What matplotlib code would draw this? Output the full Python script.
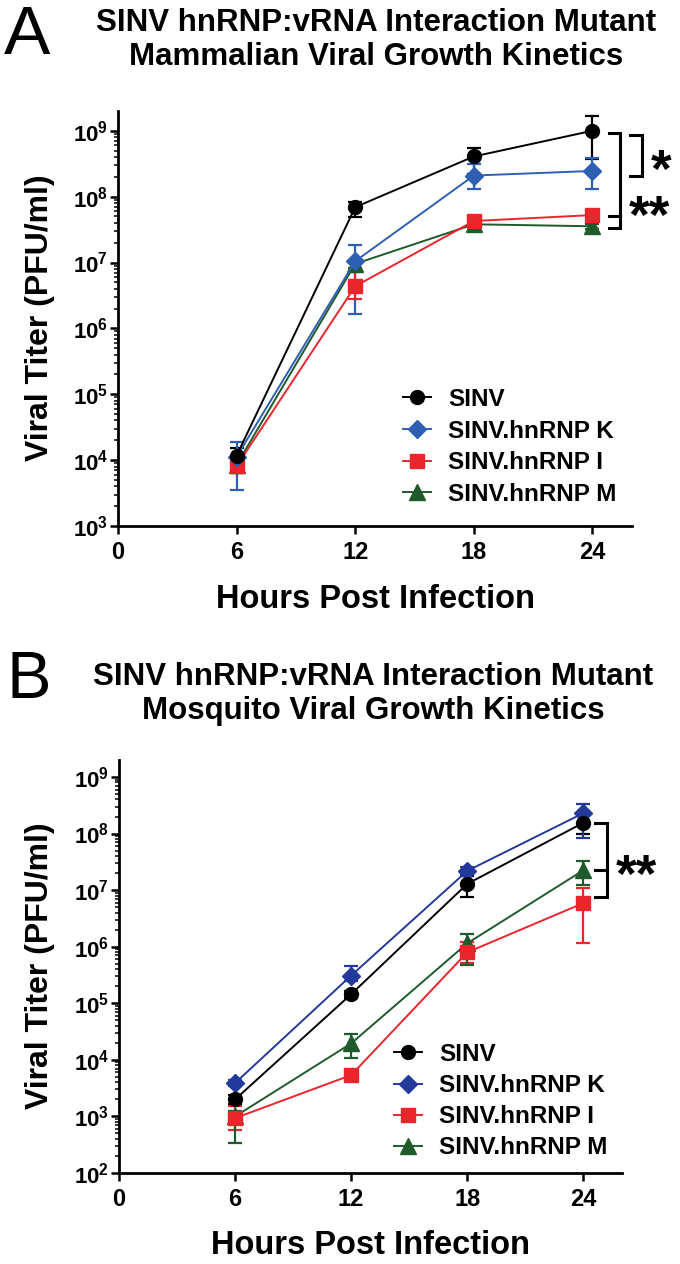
import matplotlib
matplotlib.use('Agg')
import matplotlib.pyplot as plt
import numpy as np
from matplotlib.ticker import FixedLocator, LogLocator, FuncFormatter, NullFormatter
from matplotlib.lines import Line2D

plt.rcParams['font.family'] = ['Liberation Sans', 'DejaVu Sans']
plt.rcParams['mathtext.fontset'] = 'custom'
plt.rcParams['mathtext.rm'] = 'Liberation Sans:bold'
plt.rcParams['mathtext.bf'] = 'Liberation Sans:bold'
plt.rcParams['mathtext.it'] = 'Liberation Sans:bold'

# ---- data (log10 PFU/ml) ----
hours = [6, 12, 18, 24]
names = ['SINV', 'SINV.hnRNP K', 'SINV.hnRNP I', 'SINV.hnRNP M']
markers = ['o', 'D', 's', '^']

# panel A - mammalian
a_sinv = [4.07, 7.84, 8.61, 9.00]
a_sinv_lo = [3.91, 7.69, 8.35, 8.57]
a_sinv_hi = [4.18, 7.92, 8.74, 9.23]
a_k = [4.05, 7.02, 8.32, 8.39]
a_k_lo = [3.54, 6.22, 8.11, 8.12]
a_k_hi = [4.27, 7.26, 8.50, 8.59]
a_i = [3.91, 6.64, 7.63, 7.72]
a_i_lo = [3.84, 6.45, 7.59, 7.68]
a_i_hi = [3.98, 6.85, 7.67, 7.76]
a_m = [3.93, 6.98, 7.58, 7.55]
a_m_lo = [3.80, 6.92, 7.54, 7.51]
a_m_hi = [4.03, 7.04, 7.62, 7.59]

# panel B - mosquito
b_sinv = [3.30, 5.16, 7.11, 8.19]
b_sinv_lo = [3.22, 5.10, 6.88, 8.00]
b_sinv_hi = [3.38, 5.22, 7.25, 8.33]
b_k = [3.59, 5.49, 7.34, 8.36]
b_k_lo = [3.53, 5.40, 7.28, 7.92]
b_k_hi = [3.65, 5.66, 7.40, 8.53]
b_i = [2.97, 3.73, 5.90, 6.77]
b_i_lo = [2.76, 3.65, 5.72, 6.07]
b_i_hi = [3.18, 3.81, 6.08, 7.03]
b_m = [3.00, 4.29, 6.06, 7.35]
b_m_lo = [2.53, 4.03, 5.68, 7.09]
b_m_hi = [3.10, 4.46, 6.22, 7.52]

cols_a = ['#000000', '#2f5fb3', '#e8262b', '#1f5a2c']
cols_b = ['#000000', '#24399c', '#e8262b', '#1f5a2c']

W, H = 680, 1264
fig = plt.figure(figsize=(W / 100, H / 100), dpi=100)


def fx(px):
    return px / W


def fy(py):
    return 1 - py / H


def sci(v, pos):
    return r'$\mathbf{10^{%d}}$' % int(round(np.log10(v)))


MS = {'o': 10, 'D': 9, 's': 10, '^': 11}


def panel(ax, means, los, his, cols, ymin):
    handles = []
    # plot M first so SINV ends on top
    for j in [3, 2, 1, 0]:
        m = 10 ** np.array(means[j])
        lo = m - 10 ** np.array(los[j])
        hi = 10 ** np.array(his[j]) - m
        ax.errorbar(hours, m, yerr=[lo, hi], fmt='none', ecolor=cols[j],
                    elinewidth=1.6, capsize=5, capthick=1.6, zorder=2 + j * 0.01)
        ax.plot(hours, m, color=cols[j], lw=1.4, marker=markers[j],
                ms=MS[markers[j]], mec=cols[j], mfc=cols[j], zorder=3 + (3 - j))
    for j in range(4):
        handles.append(Line2D([], [], color=cols[j], lw=1.4, marker=markers[j],
                              ms=MS[markers[j]], mec=cols[j], mfc=cols[j]))
    ax.set_yscale('log')
    ax.set_ylim(10 ** ymin, 10 ** 9.3)
    ax.set_xlim(0, 26)
    ax.yaxis.set_major_locator(LogLocator(base=10, numticks=20))
    ax.yaxis.set_minor_locator(LogLocator(base=10, subs=np.arange(2, 10), numticks=20))
    ax.yaxis.set_major_formatter(FuncFormatter(sci))
    ax.yaxis.set_minor_formatter(NullFormatter())
    ax.xaxis.set_major_locator(FixedLocator([0, 6, 12, 18, 24]))
    for s in ['top', 'right']:
        ax.spines[s].set_visible(False)
    for s in ['left', 'bottom']:
        ax.spines[s].set_linewidth(2.0)
    ax.tick_params(axis='both', which='major', length=6, width=1.8, direction='out')
    ax.tick_params(axis='y', which='minor', length=3, width=1.1, direction='out')
    ax.tick_params(axis='y', which='major', labelsize=16, pad=1)
    ax.tick_params(axis='x', which='major', labelsize=17, pad=5)
    for t in ax.get_xticklabels():
        t.set_fontweight('bold')
    return handles


def stars(ax, x, y, s, fs=38):
    ax.annotate(s, (x, 10 ** y), xytext=(0, -0.575 * fs), textcoords='offset points',
                ha='center', va='baseline', fontsize=fs, fontweight='bold',
                annotation_clip=False)


def bracket(ax, x0, x1, ys):
    ys = [10 ** v for v in ys]
    top, bot = max(ys), min(ys)
    ax.plot([x0, x1, x1, x0], [top, top, bot, bot], color='k', lw=2.2,
            clip_on=False, solid_joinstyle='miter')
    for v in ys:
        if v != top and v != bot:
            ax.plot([x0, x1], [v, v], color='k', lw=2.2, clip_on=False)


# ---- panel A ----
axA = fig.add_axes([fx(118), fy(526), fx(632) - fx(118), fy(111) - fy(526)])
hA = panel(axA,
           [a_sinv, a_k, a_i, a_m],
           [a_sinv_lo, a_k_lo, a_i_lo, a_m_lo],
           [a_sinv_hi, a_k_hi, a_i_hi, a_m_hi], cols_a, 3)
bracket(axA, 24.82, 25.38, [8.96, 7.70, 7.52])
bracket(axA, 25.92, 26.52, [8.94, 8.31])
stars(axA, 27.48, 8.61, '*')
stars(axA, 26.9, 7.91, '**')
axA.legend(hA, names, loc='upper left', bbox_to_anchor=(fx(403), fy(388)),
           bbox_transform=fig.transFigure, frameon=False, borderpad=0,
           borderaxespad=0, handlelength=1.15, handletextpad=0.7,
           labelspacing=0.35, prop={'weight': 'bold', 'size': 17.5})

fig.text(fx(4), fy(4), 'A', fontsize=50, ha='left', va='top')
fig.text(fx(376), fy(23), 'SINV hnRNP:vRNA Interaction Mutant', fontsize=22.5,
         fontweight='bold', ha='center', va='center')
fig.text(fx(376), fy(57), 'Mammalian Viral Growth Kinetics', fontsize=22.5,
         fontweight='bold', ha='center', va='center')
fig.text(fx(40), fy(318), 'Viral Titer (PFU/ml)', fontsize=23, fontweight='bold',
         rotation=90, ha='center', va='center')
fig.text(fx(376), fy(600), 'Hours Post Infection', fontsize=23.5, fontweight='bold',
         ha='center', va='center')

# ---- panel B ----
axB = fig.add_axes([fx(119), fy(1173), fx(622) - fx(119), fy(760) - fy(1173)])
hB = panel(axB,
           [b_sinv, b_k, b_i, b_m],
           [b_sinv_lo, b_k_lo, b_i_lo, b_m_lo],
           [b_sinv_hi, b_k_hi, b_i_hi, b_m_hi], cols_b, 2)
bracket(axB, 24.6, 25.21, [8.19, 7.35, 6.88])
stars(axB, 26.76, 7.51, '**')
axB.legend(hB, names, loc='upper left', bbox_to_anchor=(fx(394), fy(1043)),
           bbox_transform=fig.transFigure, frameon=False, borderpad=0,
           borderaxespad=0, handlelength=1.15, handletextpad=0.7,
           labelspacing=0.33, prop={'weight': 'bold', 'size': 17.5})

fig.text(fx(6), fy(650), 'B', fontsize=48, ha='left', va='top')
fig.text(fx(373), fy(677), 'SINV hnRNP:vRNA Interaction Mutant', fontsize=22.5,
         fontweight='bold', ha='center', va='center')
fig.text(fx(373), fy(711), 'Mosquito Viral Growth Kinetics', fontsize=22.5,
         fontweight='bold', ha='center', va='center')
fig.text(fx(40), fy(966), 'Viral Titer (PFU/ml)', fontsize=23, fontweight='bold',
         rotation=90, ha='center', va='center')
fig.text(fx(371), fy(1246), 'Hours Post Infection', fontsize=23.5, fontweight='bold',
         ha='center', va='center')

fig.savefig('out.png', dpi=100)
